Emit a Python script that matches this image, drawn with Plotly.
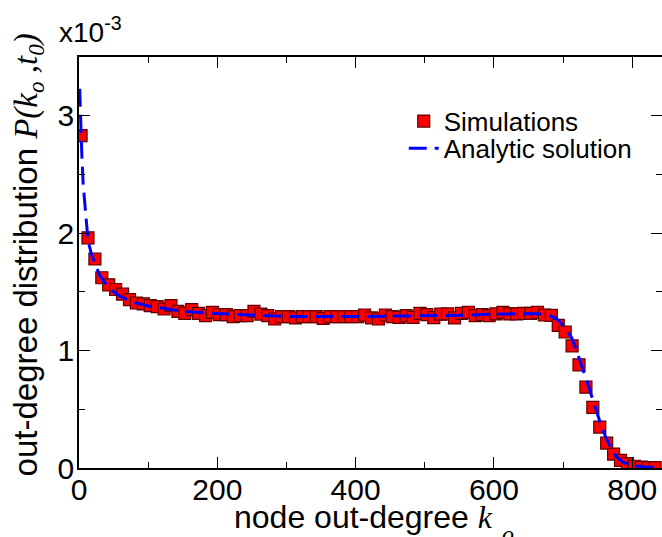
import plotly.graph_objects as go

# ---- data (values in units of 1e-3) ----
sim_k = [3, 13, 23, 33, 43, 53, 63, 73, 83, 93,
         103, 113, 123, 133, 143, 153, 163, 173, 183, 193,
         203, 213, 223, 233, 243, 253, 263, 273, 283, 293,
         303, 313, 323, 333, 343, 353, 363, 373, 383, 393,
         403, 413, 423, 433, 443, 453, 463, 473, 483, 493,
         503, 513, 523, 533, 543, 553, 563, 573, 583, 593,
         603, 613, 623, 633, 643, 653, 663, 673, 683, 693,
         703, 713, 723, 733, 743, 753, 763, 773, 783, 793,
         803, 813, 823, 833]
sim_p = [2.83, 1.96, 1.78, 1.62, 1.56, 1.52, 1.48, 1.433, 1.405, 1.397,
         1.382, 1.374, 1.354, 1.382, 1.334, 1.317, 1.348, 1.317, 1.297, 1.325,
         1.306, 1.306, 1.289, 1.297, 1.297, 1.334, 1.31, 1.297, 1.269, 1.289,
         1.289, 1.278, 1.289, 1.289, 1.289, 1.274, 1.289, 1.289, 1.289, 1.289,
         1.289, 1.303, 1.278, 1.269, 1.303, 1.289, 1.283, 1.297, 1.283, 1.317,
         1.306, 1.28, 1.31, 1.312, 1.278, 1.317, 1.325, 1.297, 1.306, 1.297,
         1.312, 1.325, 1.312, 1.312, 1.317, 1.317, 1.325, 1.303, 1.30, 1.215,
         1.158, 1.04, 0.879, 0.688, 0.516, 0.348, 0.212, 0.119, 0.065, 0.037,
         0.015, 0.008, 0.004, 0.003]

ana_k = [1, 2, 3, 4, 6, 9, 13, 18, 23, 30, 40, 50, 60, 80, 100, 150, 200, 250,
         300, 400, 500, 550, 600, 650, 675, 690, 698, 705, 712, 717, 723, 729,
         735, 741, 748, 754, 762, 768, 774, 780, 787, 794, 805, 820, 843]
ana_p = [3.23, 3.0, 2.82, 2.68, 2.42, 2.18, 1.94, 1.82, 1.75, 1.64, 1.56, 1.50,
         1.46, 1.41, 1.38, 1.335, 1.315, 1.30, 1.29, 1.29, 1.295, 1.30, 1.31,
         1.315, 1.31, 1.275, 1.227, 1.17, 1.113, 1.04, 0.94, 0.845, 0.73, 0.618,
         0.48, 0.38, 0.258, 0.184, 0.125, 0.08, 0.05, 0.033, 0.018, 0.008, 0.003]

x_ticks = [0, 200, 400, 600, 800]
y_ticks = [0, 1, 2, 3]

SANS = "Liberation Sans, Arial, Helvetica, sans-serif"
SERIF = "Liberation Serif, Times New Roman, serif"

fig = go.Figure()
fig.add_trace(go.Scatter(
    x=sim_k, y=sim_p, mode="markers", name="Simulations", legend="legend",
    marker=dict(symbol="square", size=12, color="#ff0000",
                line=dict(color="#600000", width=1.2)),
))
fig.add_trace(go.Scatter(
    x=ana_k, y=ana_p, mode="lines", name="Analytic solution", legend="legend2",
    line=dict(color="#0000ff", width=3, dash="18px,8px"),
))

axis_common = dict(
    showgrid=False, zeroline=False, showline=True, linecolor="black",
    linewidth=1.5, mirror="ticks", ticks="inside", ticklen=11, tickwidth=1,
    tickcolor="black", tickfont=dict(family=SANS, size=30, color="black"),
    automargin=False,
)
fig.update_xaxes(range=[0, 843], tickvals=x_ticks, ticktext=[str(v) for v in x_ticks],
                 minor=dict(dtick=100, ticks="inside", ticklen=6, tickcolor="black"),
                 ticklabelstandoff=-6, **axis_common)
fig.update_yaxes(range=[0, 3.5], tickvals=y_ticks, ticktext=[str(v) for v in y_ticks],
                 minor=dict(dtick=0.5, ticks="inside", ticklen=6, tickcolor="black"),
                 ticklabelstandoff=-3, **axis_common)

annotations = [
    dict(text="x10<sup>-3</sup>", xref="paper", yref="paper", x=-0.0377, y=1.017,
         xanchor="left", yanchor="bottom", showarrow=False,
         font=dict(family=SANS, size=28, color="black")),
    dict(text="node out-degree <span style='font-family:Liberation Serif'><i>k</i></span>",
         xref="paper", yref="paper", x=0.262, y=-0.07, xanchor="left", yanchor="top",
         showarrow=False, font=dict(family=SANS, size=32, color="black")),
    dict(text="<span style='font-family:Liberation Serif'><i>o</i></span>",
         xref="paper", yref="paper", x=0.736, y=-0.124, xanchor="center", yanchor="top",
         showarrow=False, font=dict(family=SERIF, size=24, color="black")),
    dict(text="out-degree distribution <span style='font-family:Liberation Serif'><i>P(k<sub>o</sub> ,t<sub>0</sub>)</i></span>",
         xref="paper", yref="paper", x=-0.087, y=0.518, xanchor="center", yanchor="middle",
         textangle=-90, showarrow=False, font=dict(family=SANS, size=33, color="black")),
]

legend_common = dict(xanchor="left", yanchor="top", bgcolor="rgba(0,0,0,0)",
                     font=dict(family=SANS, size=26, color="black"), itemwidth=30)

fig.update_layout(
    width=662, height=537,
    margin=dict(l=79, r=0, t=57, b=69, autoexpand=False),
    paper_bgcolor="white", plot_bgcolor="white",
    showlegend=True,
    legend=dict(x=0.557, y=0.901, **legend_common),
    legend2=dict(x=0.557, y=0.835, **legend_common),
    annotations=annotations,
)

fig.write_html("out.html", config={"displayModeBar": False},
               post_script="document.body.style.margin='0';document.body.style.overflow='hidden';")
